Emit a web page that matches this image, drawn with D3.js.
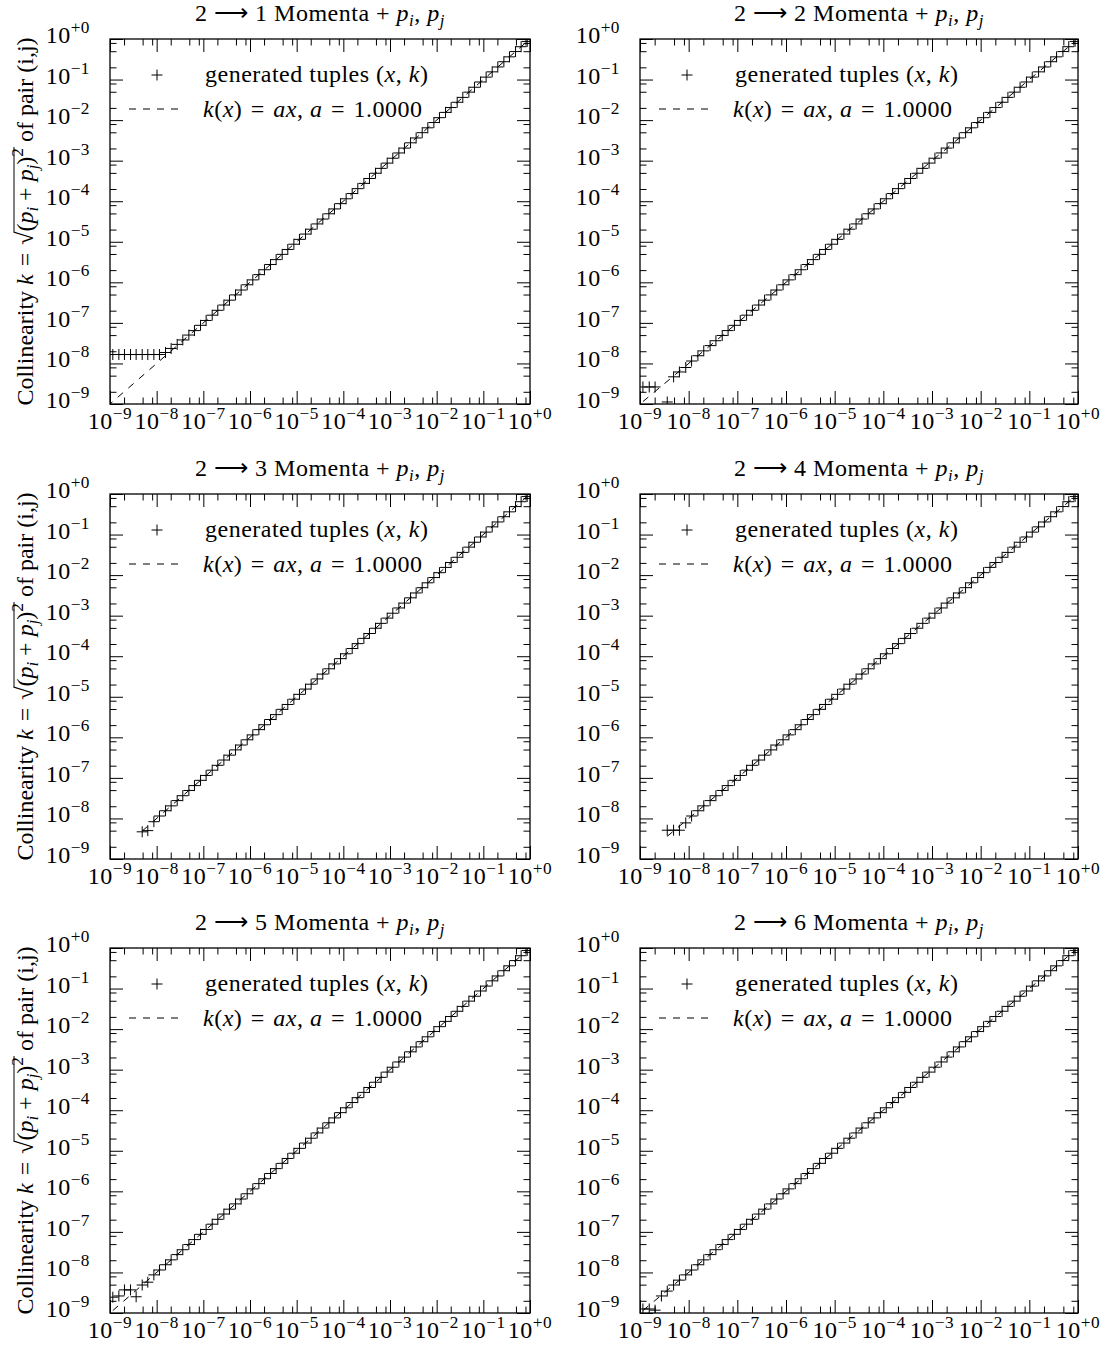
<!DOCTYPE html>
<html>
<head>
<meta charset="utf-8">
<script src="https://cdn.jsdelivr.net/npm/d3@7"></script>
<style>
  body { margin: 0; background: #fff; }
  svg text { font-family: "Liberation Serif", serif; fill: #000; letter-spacing: 0.5px; }
  svg text.ylabel { letter-spacing: 0; }
</style>
</head>
<body>
<svg id="fig" width="1116" height="1347"></svg>
<script>
// sampled x values (log10), shared by all six runs
const x_exp = [-9.06,
  -8.94,-8.81,-8.69,-8.56,-8.44,-8.31,-8.19,-8.06,
  -7.94,-7.81,-7.69,-7.56,-7.44,-7.31,-7.19,-7.06,
  -6.94,-6.81,-6.69,-6.56,-6.44,-6.31,-6.19,-6.06,
  -5.94,-5.81,-5.69,-5.56,-5.44,-5.31,-5.19,-5.06,
  -4.94,-4.81,-4.69,-4.56,-4.44,-4.31,-4.19,-4.06,
  -3.94,-3.81,-3.69,-3.56,-3.44,-3.31,-3.19,-3.06,
  -2.94,-2.81,-2.69,-2.56,-2.44,-2.31,-2.19,-2.06,
  -1.94,-1.81,-1.69,-1.56,-1.44,-1.31,-1.19,-1.06,
  -0.94,-0.81,-0.69,-0.56,-0.44,-0.31,-0.19,-0.06];

// generated collinearity k (log10), one list per final state multiplicity
const k_2to1 = [-7.78,
  -7.78,-7.78,-7.78,-7.78,-7.78,-7.78,-7.78,-7.78,
  -7.78,-7.73,-7.63,-7.53,-7.42,-7.30,-7.19,-7.06,
  -6.94,-6.81,-6.69,-6.56,-6.44,-6.31,-6.19,-6.06,
  -5.94,-5.81,-5.69,-5.56,-5.44,-5.31,-5.19,-5.06,
  -4.94,-4.81,-4.69,-4.56,-4.44,-4.31,-4.19,-4.06,
  -3.94,-3.81,-3.69,-3.56,-3.44,-3.31,-3.19,-3.06,
  -2.94,-2.81,-2.69,-2.56,-2.44,-2.31,-2.19,-2.06,
  -1.94,-1.81,-1.69,-1.56,-1.44,-1.31,-1.19,-1.06,
  -0.94,-0.81,-0.69,-0.56,-0.44,-0.31,-0.19,-0.06];
const k_2to2 = [null,
  -8.58,-8.58,-8.58,null,-8.95,-8.33,-8.21,-8.10,
  -7.94,-7.81,-7.69,-7.56,-7.44,-7.31,-7.19,-7.06,
  -6.94,-6.81,-6.69,-6.56,-6.44,-6.31,-6.19,-6.06,
  -5.94,-5.81,-5.69,-5.56,-5.44,-5.31,-5.19,-5.06,
  -4.94,-4.81,-4.69,-4.56,-4.44,-4.31,-4.19,-4.06,
  -3.94,-3.81,-3.69,-3.56,-3.44,-3.31,-3.19,-3.06,
  -2.94,-2.81,-2.69,-2.56,-2.44,-2.31,-2.19,-2.06,
  -1.94,-1.81,-1.69,-1.56,-1.44,-1.31,-1.19,-1.06,
  -0.94,-0.81,-0.69,-0.56,-0.44,-0.31,-0.19,-0.06];
const k_2to3 = [null,
  null,null,null,null,null,-8.33,-8.30,-8.08,
  -7.94,-7.81,-7.69,-7.56,-7.44,-7.31,-7.19,-7.06,
  -6.94,-6.81,-6.69,-6.56,-6.44,-6.31,-6.19,-6.06,
  -5.94,-5.81,-5.69,-5.56,-5.44,-5.31,-5.19,-5.06,
  -4.94,-4.81,-4.69,-4.56,-4.44,-4.31,-4.19,-4.06,
  -3.94,-3.81,-3.69,-3.56,-3.44,-3.31,-3.19,-3.06,
  -2.94,-2.81,-2.69,-2.56,-2.44,-2.31,-2.19,-2.06,
  -1.94,-1.81,-1.69,-1.56,-1.44,-1.31,-1.19,-1.06,
  -0.94,-0.81,-0.69,-0.56,-0.44,-0.31,-0.19,-0.06];
const k_2to4 = [null,
  null,null,null,null,-8.29,-8.29,-8.29,-8.11,
  -7.94,-7.81,-7.69,-7.56,-7.44,-7.31,-7.19,-7.06,
  -6.94,-6.81,-6.69,-6.56,-6.44,-6.31,-6.19,-6.06,
  -5.94,-5.81,-5.69,-5.56,-5.44,-5.31,-5.19,-5.06,
  -4.94,-4.81,-4.69,-4.56,-4.44,-4.31,-4.19,-4.06,
  -3.94,-3.81,-3.69,-3.56,-3.44,-3.31,-3.19,-3.06,
  -2.94,-2.81,-2.69,-2.56,-2.44,-2.31,-2.19,-2.06,
  -1.94,-1.81,-1.69,-1.56,-1.44,-1.31,-1.19,-1.06,
  -0.94,-0.81,-0.69,-0.56,-0.44,-0.31,-0.19,-0.06];
const k_2to5 = [null,
  -8.61,-8.58,-8.43,-8.43,-8.60,-8.31,-8.24,-8.06,
  -7.94,-7.81,-7.69,-7.56,-7.44,-7.31,-7.19,-7.06,
  -6.94,-6.81,-6.69,-6.56,-6.44,-6.31,-6.19,-6.06,
  -5.94,-5.81,-5.69,-5.56,-5.44,-5.31,-5.19,-5.06,
  -4.94,-4.81,-4.69,-4.56,-4.44,-4.31,-4.19,-4.06,
  -3.94,-3.81,-3.69,-3.56,-3.44,-3.31,-3.19,-3.06,
  -2.94,-2.81,-2.69,-2.56,-2.44,-2.31,-2.19,-2.06,
  -1.94,-1.81,-1.69,-1.56,-1.44,-1.31,-1.19,-1.06,
  -0.94,-0.81,-0.69,-0.56,-0.44,-0.31,-0.19,-0.06];
const k_2to6 = [null,
  -8.90,-8.90,-8.93,-8.58,-8.46,-8.31,-8.19,-8.06,
  -7.94,-7.81,-7.69,-7.56,-7.44,-7.31,-7.19,-7.06,
  -6.94,-6.81,-6.69,-6.56,-6.44,-6.31,-6.19,-6.06,
  -5.94,-5.81,-5.69,-5.56,-5.44,-5.31,-5.19,-5.06,
  -4.94,-4.81,-4.69,-4.56,-4.44,-4.31,-4.19,-4.06,
  -3.94,-3.81,-3.69,-3.56,-3.44,-3.31,-3.19,-3.06,
  -2.94,-2.81,-2.69,-2.56,-2.44,-2.31,-2.19,-2.06,
  -1.94,-1.81,-1.69,-1.56,-1.44,-1.31,-1.19,-1.06,
  -0.94,-0.81,-0.69,-0.56,-0.44,-0.31,-0.19,-0.06];

const final_states = [1, 2, 3, 4, 5, 6];
const k_series = [k_2to1, k_2to2, k_2to3, k_2to4, k_2to5, k_2to6];
const fit_a = [1.0, 1.0, 1.0, 1.0, 1.0, 1.0];

const tick_exps = [-9, -8, -7, -6, -5, -4, -3, -2, -1, 0];
const tick_labels = ["\u22129", "\u22128", "\u22127", "\u22126", "\u22125", "\u22124", "\u22123", "\u22122", "\u22121", "+0"];
const minor_mult = [2, 5, 8];

// layout: the left column loses some width to the y label
const col_x = [110, 640];
const col_w = [420, 438];
const row_y = [39, 494, 948];
const H = 365;
const R = 5.5;
const FS = 24;
const EQ = "\u2004=\u2004";

const svg = d3.select("#fig");

const Y = d3.scaleLog().domain([1e-9, 1]).range([H, 0]);

const majors = tick_exps.map(e => Math.pow(10, e));
const minors = [];
tick_exps.slice(0, -1).forEach(e => minor_mult.forEach(m => minors.push(m * Math.pow(10, e))));

// write a list of [text, flags] pieces as tspans (flags: i = italic, sub, sup)
function mathText(txt, parts) {
  let shift = 0;
  parts.forEach(p => {
    const f = p[1] || "";
    const ts = txt.append("tspan").text(p[0]);
    if (f.includes("i")) ts.attr("font-style", "italic");
    let s = 0;
    if (f.includes("sub")) { s = 5; ts.attr("font-size", "70%"); }
    if (f.includes("sup")) { s = -10; ts.attr("font-size", "72%"); }
    if (s !== shift) { ts.attr("dy", s - shift); shift = s; }
  });
  return txt;
}

k_series.forEach((ks, n) => {
  const col = n % 2, row = Math.floor(n / 2);
  const W = col_w[col];
  const X = d3.scaleLog().domain([1e-9, 1]).range([0, W]);
  const g = svg.append("g").attr("transform", "translate(" + col_x[col] + "," + row_y[row] + ")");

  g.append("clipPath").attr("id", "clip" + n)
    .append("rect").attr("width", W).attr("height", H);

  // ticks on all four sides, pointing inwards
  const axes = [
    [d3.axisBottom(X), "translate(0," + H + ")"],
    [d3.axisTop(X), "translate(0,0)"],
    [d3.axisLeft(Y), "translate(0,0)"],
    [d3.axisRight(Y), "translate(" + W + ",0)"]
  ];
  axes.forEach(([ax, tr]) => {
    g.append("g").attr("transform", tr)
      .call(ax.tickValues(majors).tickSize(-13).tickFormat(""))
      .call(s => s.select(".domain").remove());
    g.append("g").attr("transform", tr)
      .call(ax.tickValues(minors).tickSize(-6.5).tickFormat(""))
      .call(s => s.select(".domain").remove());
  });
  g.selectAll(".tick line").attr("stroke", "#000").attr("stroke-width", 1);

  g.append("rect").attr("width", W).attr("height", H)
    .attr("fill", "none").attr("stroke", "#000").attr("stroke-width", 1.3);

  // tick labels 10^n
  tick_exps.forEach((e, i) => {
    mathText(g.append("text")
      .attr("x", X(majors[i])).attr("y", H + 25)
      .attr("text-anchor", "middle").attr("font-size", FS),
      [["10"], [tick_labels[i], "sup"]]);
    mathText(g.append("text")
      .attr("x", -20).attr("y", Y(majors[i]) + 4)
      .attr("text-anchor", "end").attr("font-size", FS),
      [["10"], [tick_labels[i], "sup"]]);
  });

  // title
  mathText(g.append("text")
    .attr("x", W / 2).attr("y", -18)
    .attr("text-anchor", "middle").attr("font-size", FS),
    [["2 \u27F6 " + final_states[n] + " Momenta + "], ["p", "i"], ["i", "i sub"], [", "], ["p", "i"], ["j", "i sub"]]);

  // y label on the left column
  if (col === 0) {
    const lg = g.append("g").attr("transform", "translate(-77," + (H / 2) + ") rotate(-90)");
    const pre = [["Collinearity "], ["k", "i"], [EQ + "\u221A"]];
    const rad = [["("], ["p", "i"], ["i", "i sub"], [" + "], ["p", "i"], ["j", "i sub"], [")"], ["2", "sup"]];
    const post = [[" of pair (i,j)"]];
    const lt = mathText(lg.append("text").attr("class", "ylabel")
      .attr("text-anchor", "middle").attr("font-size", FS),
      pre.concat(rad, post));
    const i0 = d3.sum(pre, p => p[0].length);
    const i1 = i0 + d3.sum(rad, p => p[0].length) - 1;
    const node = lt.node();
    const xa = node.getStartPositionOfChar(i0).x - 1;
    const xb = node.getEndPositionOfChar(i1).x + 1;
    lg.append("line").attr("x1", xa).attr("x2", xb).attr("y1", -19).attr("y2", -19)
      .attr("stroke", "#000").attr("stroke-width", 1);
  }

  // data
  const pts = x_exp.map((xe, i) => ({ x: Math.pow(10, xe), k: ks[i] === null ? null : Math.pow(10, ks[i]) }))
    .filter(d => d.k !== null);

  const marks = g.append("g").attr("clip-path", "url(#clip" + n + ")");

  const xr = d3.extent(pts, d => d.x);
  marks.append("path")
    .datum(xr)
    .attr("d", d3.line().x(d => X(d)).y(d => Y(fit_a[n] * d)))
    .attr("fill", "none").attr("stroke", "#000").attr("stroke-width", 1)
    .attr("stroke-dasharray", "7,7");

  marks.selectAll(".pt").data(pts).enter().append("path")
    .attr("class", "pt")
    .attr("d", d => {
      const cx = X(d.x), cy = Y(d.k);
      return "M" + (cx - R) + "," + cy + "H" + (cx + R) + "M" + cx + "," + (cy - R) + "V" + (cy + R);
    })
    .attr("fill", "none").attr("stroke", "#000").attr("stroke-width", 1);

  // legend
  g.append("path")
    .attr("d", "M" + (47 - R) + ",36H" + (47 + R) + "M47," + (36 - R) + "V" + (36 + R))
    .attr("stroke", "#000").attr("stroke-width", 1);
  mathText(g.append("text").attr("x", 95).attr("y", 43).attr("font-size", FS),
    [["generated tuples ("], ["x", "i"], [", "], ["k", "i"], [")"]]);
  g.append("line").attr("x1", 19).attr("x2", 73).attr("y1", 70).attr("y2", 70)
    .attr("stroke", "#000").attr("stroke-width", 1).attr("stroke-dasharray", "7,7");
  mathText(g.append("text").attr("x", 93).attr("y", 78).attr("font-size", FS),
    [["k", "i"], ["("], ["x", "i"], [")" + EQ], ["ax", "i"], [", "], ["a", "i"], [EQ + d3.format(".4f")(fit_a[n])]]);
});
</script>
</body>
</html>
